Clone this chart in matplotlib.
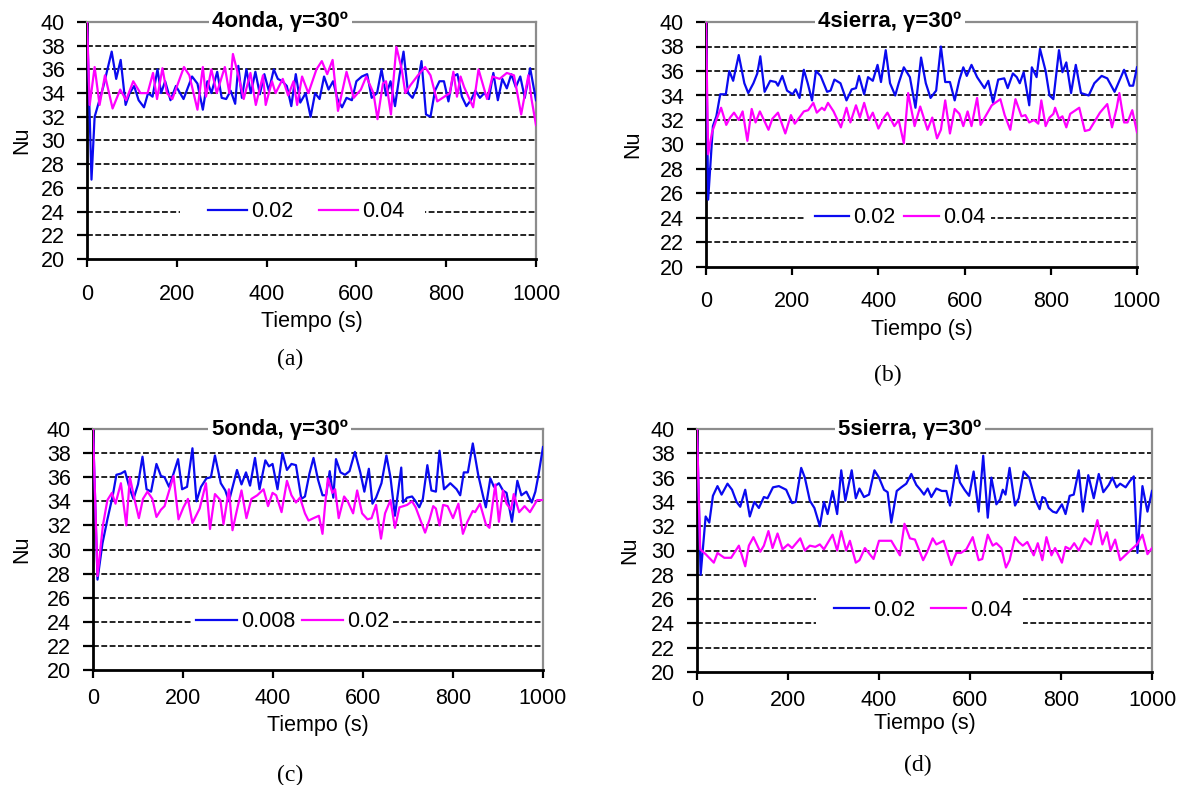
#!/usr/bin/env python3
import matplotlib as mpl
mpl.use('Agg')
import matplotlib.pyplot as plt
from matplotlib.patches import Rectangle

plt.rcParams['font.family'] = ['Liberation Sans', 'DejaVu Sans']

# +
# data: Nu vs time
# -
t_a1 = [0, 10, 17, 36, 55, 65, 75, 86, 95, 105,
        115, 127, 136, 146, 157, 165, 174, 186, 198, 215,
        234, 246, 258, 268, 277, 290, 300, 310, 320, 330,
        337, 345, 355, 365, 375, 385, 395, 405, 416, 425,
        435, 445, 455, 465, 475, 487, 498, 508, 518, 528,
        538, 548, 558, 568, 578, 590, 600, 612, 624, 634,
        646, 656, 666, 676, 686, 696, 705, 715, 725, 735,
        745, 755, 765, 775, 785, 795, 805, 815, 825, 835,
        845, 855, 865, 875, 885, 895, 905, 915, 925, 935,
        945, 955, 965, 975, 987, 1000]
nu_a1 = [40, 26.7, 32, 34.5, 37.5, 35.2, 36.8, 33, 34, 34.6,
         33.4, 32.8, 34, 33.7, 36, 34, 35, 33.4, 34.6, 33.5,
         35.4, 34.8, 32.6, 35, 34, 35.8, 33.6, 33.5, 34.2, 33.1,
         36.3, 33.6, 36, 34, 35.8, 33.9, 35.6, 34.2, 36, 35.2,
         35, 34.6, 32.9, 35.6, 33.2, 34, 32, 34, 33.5, 35.4,
         34.3, 35, 33.5, 32.8, 33.6, 33.4, 35, 35.4, 35.6, 33.6,
         34, 36, 33.8, 35, 32.9, 35.5, 37.5, 34, 33.6, 34.5,
         36.7, 32.2, 32, 34.2, 35, 35, 33.3, 35.4, 35.6, 33.7,
         32.9, 33.4, 34.2, 33.6, 34, 33.5, 35.7, 33.4, 35.2, 34.4,
         35.6, 34.5, 35.4, 33.6, 36.1, 33.4]
t_a2 = [0, 6, 17, 28, 40, 57, 74, 87, 103, 119,
        135, 147, 156, 168, 178, 190, 216, 228, 246, 258,
        265, 277, 289, 307, 317, 325, 337, 349, 364, 376,
        392, 398, 412, 420, 436, 448, 460, 468, 479, 493,
        511, 523, 535, 547, 559, 578, 594, 610, 622, 638,
        647, 659, 666, 677, 681, 689, 701, 709, 721, 737,
        753, 765, 780, 796, 808, 816, 824, 832, 840, 860,
        872, 891, 903, 919, 935, 951, 967, 983, 990, 1000]
nu_a2 = [40, 33, 36.2, 33, 35.5, 32.7, 34.3, 33.4, 35, 34,
         34, 35.7, 33.5, 36.1, 34, 33.5, 36.2, 35.5, 32.6, 36.2,
         33.7, 36, 34, 36.2, 34, 37.3, 35.5, 33.5, 35.7, 33,
         35.5, 33, 35, 34, 35.2, 33.8, 35, 33, 35.4, 34,
         36, 36.7, 35.6, 36.8, 32.5, 35.8, 33.6, 34.3, 35.4, 34,
         31.8, 34.8, 35, 32.2, 34.4, 37.9, 36, 34, 34.7, 35.5,
         36.2, 35.5, 33.3, 33.7, 34, 35.8, 33.7, 35.4, 34.5, 32.8,
         36, 33.5, 35.4, 35.2, 35.7, 35.5, 32.2, 35.5, 33.5, 31.3]

t_b1 = [0, 5, 16, 24, 33, 46, 54, 63, 76, 89,
        98, 110, 119, 126, 136, 149, 162, 167, 177, 188,
        201, 208, 217, 227, 236, 246, 255, 266, 281, 289,
        298, 312, 326, 338, 348, 355, 367, 376, 387, 398,
        406, 417, 427, 439, 447, 459, 473, 486, 499, 510,
        521, 534, 545, 555, 566, 577, 588, 597, 605, 616,
        629, 646, 655, 666, 678, 692, 700, 712, 721, 728,
        737, 750, 756, 767, 775, 788, 797, 806, 819, 827,
        836, 847, 858, 870, 888, 901, 918, 931, 948, 970,
        983, 991, 1000]
nu_b1 = [40, 25.5, 31.5, 32.3, 34.1, 34.1, 36, 35.2, 37.3, 35,
         34.2, 35, 35.8, 37.2, 34.3, 35.2, 35.1, 34.8, 35.6, 34.4,
         34.1, 34.5, 33.8, 36.1, 35, 33.6, 36, 35.6, 34.3, 34.4,
         35.3, 35, 33.6, 34.5, 34.6, 35.6, 34.1, 35.5, 35.2, 36.5,
         35.1, 37.7, 35, 34, 35, 36.3, 35.5, 33, 37.1, 35,
         33.8, 34.4, 38, 35.1, 35.1, 33.6, 35.3, 36.3, 35.6, 36.5,
         35.5, 34.6, 35.2, 33.4, 35.3, 35.4, 34.6, 35.8, 35.5, 35,
         35.9, 33.2, 36.3, 35.5, 37.8, 36, 34, 33.7, 37.7, 35.9,
         36.7, 34.2, 36.5, 34.2, 34, 35, 35.6, 35.4, 34.3, 36.1,
         34.8, 34.8, 36.3]
t_b2 = [0, 5, 14, 24, 35, 47, 56, 65, 76, 85,
        96, 106, 115, 125, 145, 154, 167, 184, 197, 206,
        227, 237, 249, 257, 269, 275, 283, 296, 313, 326,
        335, 348, 357, 367, 378, 387, 400, 413, 421, 437,
        447, 459, 469, 484, 497, 514, 525, 536, 545, 555,
        566, 577, 588, 597, 607, 616, 629, 637, 650, 663,
        683, 693, 706, 712, 718, 732, 741, 750, 761, 771,
        778, 788, 797, 806, 810, 819, 827, 836, 845, 866,
        879, 890, 914, 931, 942, 953, 959, 970, 978, 989,
        1000]
nu_b2 = [40, 29.2, 31, 32, 33, 31.6, 32.2, 32.6, 32, 32.7,
         30.3, 32.9, 31.8, 32.7, 31.2, 32.1, 32.6, 30.9, 32.4, 31.7,
         32.7, 32.8, 33.4, 32.6, 33, 32.8, 33.4, 32.7, 31.4, 33,
         31.8, 33.2, 32.2, 33.4, 32, 32.6, 31.3, 32.2, 32.6, 31.5,
         32, 30.1, 34.2, 31.5, 33.1, 31.2, 32.2, 30.5, 31.2, 33.6,
         30.9, 32.9, 32.5, 31.5, 32.7, 31.5, 33.8, 31.6, 32.4, 33.2,
         33.7, 32.4, 31.2, 32.5, 33.7, 32.3, 32.4, 31.8, 32, 31.7,
         33.6, 31.5, 32.2, 32.5, 33, 32.1, 32.3, 31.4, 32.5, 33,
         31.1, 31.2, 32.6, 33.3, 31.4, 33, 34.2, 31.8, 31.8, 32.8,
         31]

t_c1 = [0, 10, 21, 32, 44, 52, 62, 71, 82, 90,
        100, 110, 119, 129, 141, 151, 159, 169, 179, 189,
        198, 209, 221, 230, 240, 252, 262, 271, 284, 294,
        302, 320, 330, 340, 349, 360, 370, 383, 391, 399,
        410, 421, 431, 441, 451, 463, 471, 481, 490, 500,
        510, 518, 526, 534, 540, 550, 560, 570, 582, 594,
        603, 613, 621, 629, 641, 652, 661, 671, 685, 689,
        698, 709, 717, 725, 733, 743, 752, 762, 770, 780,
        794, 808, 816, 824, 833, 844, 856, 867, 873, 883,
        891, 902, 911, 919, 931, 943, 952, 963, 975, 983,
        990, 1000]
nu_c1 = [40, 27.5, 30.5, 32.5, 34.5, 36.2, 36.3, 36.5, 35, 34.2,
         35.4, 37.7, 35, 34.8, 37.1, 36.1, 36, 35.2, 36.3, 37.5,
         35, 35.2, 38.4, 34, 35.2, 35.9, 36, 37.8, 35.5, 34.9,
         34, 36.6, 35.4, 36.4, 35.3, 37.6, 35, 37.4, 36.9, 37.1,
         35, 38, 36.6, 37.1, 37, 34.2, 34.4, 36.3, 37.6, 35.8,
         34.5, 34.5, 36.5, 34.3, 37.5, 36.4, 36.2, 36.5, 38.1, 36.4,
         34.8, 36.7, 33.8, 34.3, 35.5, 37.8, 36, 32.8, 36.8, 33.9,
         34.3, 34.4, 34, 33.5, 34.2, 37, 34.9, 34.8, 38.2, 35,
         35.5, 35, 34.5, 36.4, 36.4, 38.8, 36.2, 34.4, 33.5, 35.9,
         35.2, 35.5, 34.9, 34.7, 32.3, 35.7, 34.5, 34.8, 33.9, 34.8,
         36.2, 38.5]
t_c2 = [0, 10, 22, 32, 42, 50, 62, 74, 82, 92,
        102, 111, 121, 132, 141, 151, 159, 179, 190, 201,
        211, 221, 237, 251, 260, 271, 283, 290, 302, 310,
        320, 330, 341, 352, 365, 379, 389, 399, 407, 419,
        431, 441, 451, 460, 471, 479, 490, 502, 510, 516,
        522, 532, 538, 546, 558, 566, 578, 587, 598, 610,
        619, 629, 640, 649, 661, 671, 681, 690, 698, 709,
        717, 738, 748, 756, 762, 770, 778, 788, 800, 812,
        822, 832, 844, 849, 860, 873, 881, 894, 902, 911,
        919, 929, 935, 947, 959, 971, 987, 1000]
nu_c2 = [40, 27.8, 32, 34.1, 34.7, 33.8, 35.5, 32, 36, 34.2,
         32.6, 34.2, 34.8, 34.2, 32.7, 33.3, 33.6, 36.1, 32.5, 33.5,
         34.2, 32.2, 33.4, 35.5, 31.7, 34.6, 34.1, 32.1, 35, 31.6,
         33.3, 34.9, 32.6, 34.2, 34.5, 35, 33.6, 34.7, 34.5, 33.1,
         35.7, 34.5, 33.9, 34.3, 33, 32.4, 32.6, 32.8, 31.3, 33.8,
         35.9, 34.7, 35, 32.6, 34.4, 34, 33, 34.9, 33, 32.5,
         32.6, 33.7, 30.9, 33, 34.1, 31.8, 33.5, 33.6, 33.7, 34,
         33.5, 31.4, 32.5, 33.6, 33.4, 32, 33.7, 33.6, 32.6, 33.8,
         31.3, 32.3, 33.2, 33.1, 33.8, 32.1, 31.8, 35.4, 32.3, 34.9,
         33.8, 33.3, 34.6, 33.1, 33.6, 33.1, 34.1, 34.1]

t_d1 = [0, 8, 19, 27, 35, 45, 54, 67, 77, 87,
        95, 106, 116, 126, 136, 147, 155, 167, 180, 196,
        209, 217, 229, 237, 248, 258, 270, 279, 287, 298,
        308, 317, 326, 340, 349, 357, 367, 378, 390, 400,
        411, 419, 427, 439, 449, 460, 471, 482, 491, 499,
        507, 515, 526, 538, 548, 556, 570, 578, 588, 598,
        608, 619, 629, 639, 647, 658, 666, 672, 678, 687,
        699, 707, 718, 730, 743, 753, 759, 765, 773, 782,
        790, 802, 810, 819, 828, 839, 848, 860, 872, 883,
        893, 905, 913, 922, 930, 942, 951, 960, 968, 979,
        990, 1000]
nu_d1 = [40, 28, 32.8, 32.3, 34.5, 35.3, 34.6, 35.5, 35, 34,
         33.6, 35, 32.8, 34, 33.5, 34.4, 34.3, 35.2, 35.3, 35,
         33.9, 34, 36.8, 36, 34.1, 33.5, 32, 34, 33, 34.9,
         33, 36.6, 34.1, 36.6, 34.3, 35.1, 34.4, 34.6, 36.6, 36,
         35, 34.8, 32.3, 34.9, 35.2, 35.5, 36.3, 35.4, 35, 34.6,
         35.1, 34.4, 35.1, 34.9, 34.9, 33.7, 37, 35.6, 35, 34.5,
         36.5, 33.2, 37.8, 32.7, 36, 33.8, 34.2, 35, 34.6, 36.8,
         33.7, 34.3, 36.5, 36, 34.2, 33.4, 34.4, 34.3, 33.5, 33.2,
         33.1, 33.8, 33, 34.5, 34.6, 36.6, 33.2, 36.2, 34.3, 36.3,
         34.8, 35.4, 36, 35.2, 35.5, 35.2, 35.7, 36.1, 29.8, 35.3,
         33.2, 34.9]
t_d2 = [0, 7, 19, 37, 45, 60, 75, 92, 106, 114,
        124, 139, 147, 157, 166, 177, 188, 200, 209, 227,
        237, 248, 260, 270, 279, 298, 308, 317, 328, 336,
        349, 357, 369, 388, 400, 413, 427, 446, 456, 468,
        479, 497, 505, 518, 526, 542, 559, 570, 580, 592,
        606, 619, 627, 639, 650, 658, 669, 679, 687, 699,
        707, 716, 726, 740, 749, 759, 768, 779, 787, 802,
        810, 820, 829, 839, 852, 866, 880, 891, 901, 909,
        919, 930, 941, 955, 967, 979, 990, 1000]
nu_d2 = [40, 30.1, 29.7, 29, 29.8, 29.4, 29.4, 30.4, 28.7, 30.4,
         31.1, 29.9, 30.4, 31.6, 30.2, 31.4, 30.1, 30.5, 30.2, 31,
         30, 30.4, 30.3, 30.5, 30.1, 31.3, 30, 31.6, 30, 30.8,
         29, 29.2, 30.2, 29.3, 30.8, 30.8, 30.8, 29.6, 32.2, 31,
         30.9, 29.2, 29.8, 31, 30.5, 30.8, 28.8, 29.8, 29.8, 30.1,
         31.1, 29.2, 29.3, 31.3, 30.4, 30.6, 30.2, 28.6, 29.2, 31.1,
         30.7, 30.4, 30.7, 29.6, 30.6, 29.2, 31.1, 29.6, 30.2, 29,
         30.3, 30.1, 30.6, 30, 31, 30.5, 32.5, 30.5, 31.5, 30,
         30.9, 29.2, 29.6, 30.1, 30.5, 31.3, 29.7, 30.2]

titles = ['4onda, γ=30º', '4sierra, γ=30º', '5onda, γ=30º', '5sierra, γ=30º']
legends = [['0.02', '0.04'], ['0.02', '0.04'], ['0.008', '0.02'], ['0.02', '0.04']]
captions = ['(a)', '(b)', '(c)', '(d)']
y_ticks = list(range(20, 41, 2))
x_ticks = [0, 200, 400, 600, 800, 1000]

# +
# layout (pixels in a 1184 x 785 canvas)
# -
W, H = 1184, 785
boxes = [(87, 536, 22, 259), (706, 1137, 22, 267), (93, 543, 429, 670), (697, 1152, 429, 672)]
xlab_y = [321, 330, 726, 724]
cap_xy = [(290, 359), (888, 375), (290, 775), (918, 765)]
nu_x = [22, 633, 22, 630]
tick_pad = [12, 11, 7, 7]
leg_xy = [(0.488, 0.2), (0.45, 0.2), (0.444, 0.2), (0.497, 0.255)]
leg_col = [1.2, 0.4, 0.3, 0.75]
leg_hl = [1.8, 1.6, 1.9, 1.6]
# white patch behind each legend: x0, x1, y0, y1 in axes fraction
leg_bg = [(0.207, 0.753, 0.17, 0.23), (0.232, 0.661, 0.17, 0.23),
          (0.218, 0.667, 0.17, 0.23), (0.262, 0.716, 0.17, 0.33)]
title_x = [0.43, 0.427, 0.415, 0.468]

series = [(t_a1, nu_a1, t_a2, nu_a2), (t_b1, nu_b1, t_b2, nu_b2),
          (t_c1, nu_c1, t_c2, nu_c2), (t_d1, nu_d1, t_d2, nu_d2)]

FS = 15.5

fig = plt.figure(figsize=(W / 100, H / 100), dpi=100)

for i, (x0, x1, y0, y1) in enumerate(boxes):
    ax = fig.add_axes([x0 / W, 1 - y1 / H, (x1 - x0) / W, (y1 - y0) / H])
    ta, va, tb, vb = series[i]
    assert len(ta) == len(va) and len(tb) == len(vb)

    # dashed gridlines (40 is the grey frame)
    for g in y_ticks[1:-1]:
        ax.axhline(g, color='black', lw=1.2, ls=(0, (3.5, 1.5)), zorder=1)

    bx0, bx1, by0, by1 = leg_bg[i]
    ax.add_patch(Rectangle((bx0, by0), bx1 - bx0, by1 - by0, transform=ax.transAxes,
                           facecolor='white', edgecolor='none', zorder=2))

    l1, = ax.plot(ta, va, color='#0a0af0', lw=1.6, zorder=3)
    l2, = ax.plot(tb, vb, color='#ff00ff', lw=1.6, zorder=3)

    ax.set_xlim(0, 1000)
    ax.set_ylim(20, 40)
    ax.set_xticks(x_ticks)
    ax.set_yticks(y_ticks)
    ax.tick_params(axis='both', labelsize=FS, direction='out', width=1.6, color='black')
    ax.tick_params(axis='x', length=6, pad=tick_pad[i])
    ax.tick_params(axis='y', length=7, pad=9)
    for s in ['left', 'bottom']:
        ax.spines[s].set_color('black')
        ax.spines[s].set_linewidth(2)
    for s in ['top', 'right']:
        ax.spines[s].set_color('#8c8c8c')
        ax.spines[s].set_linewidth(1.6)

    ax.text(title_x[i], 1.0, titles[i], transform=ax.transAxes, ha='center', va='center',
            fontsize=16, fontweight='bold', zorder=6,
            bbox=dict(facecolor='white', edgecolor='none', pad=2.5))

    ax.legend([l1, l2], legends[i], ncol=2, loc='center', bbox_to_anchor=leg_xy[i],
              fontsize=FS, frameon=False, handlelength=leg_hl[i],
              handletextpad=0.2, columnspacing=leg_col[i], borderpad=0, borderaxespad=0)

    fig.text((x0 + x1) / 2 / W, 1 - xlab_y[i] / H, 'Tiempo (s)', ha='center', va='center', fontsize=FS)
    fig.text(nu_x[i] / W, 1 - (y0 + y1) / 2 / H, 'Nu', rotation=90, ha='center', va='center', fontsize=FS)
    fig.text(cap_xy[i][0] / W, 1 - cap_xy[i][1] / H, captions[i], ha='center', va='center',
             fontsize=17, family=['Liberation Serif', 'DejaVu Serif'])

plt.savefig('out.png', dpi=100)
